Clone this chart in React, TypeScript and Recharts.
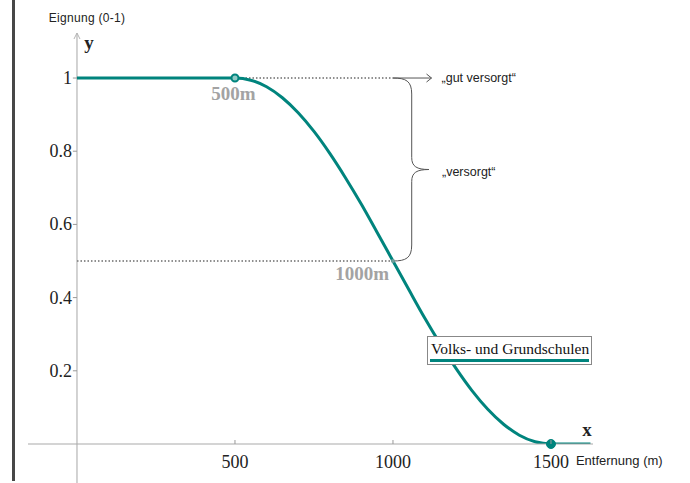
import {
  Legend,
  Line,
  LineChart,
  ReferenceArea,
  ReferenceDot,
  ReferenceLine,
  XAxis,
  YAxis,
} from "recharts";

// Entfernung (m) und Eignung (0-1)
const ENTFERNUNG = [0, 500, 550, 600, 650, 700, 750, 800, 850, 900, 950, 1000, 1050, 1100, 1150, 1200, 1250, 1300, 1350, 1400, 1450, 1500, 1625];
const EIGNUNG = [1, 1, 0.994, 0.976, 0.946, 0.905, 0.854, 0.794, 0.727, 0.655, 0.578, 0.5, 0.422, 0.345, 0.273, 0.206, 0.146, 0.095, 0.054, 0.024, 0.006, 0, 0];
const X_TICKS = [500, 1000, 1500];
const Y_TICKS = [0.2, 0.4, 0.6, 0.8, 1];
const MARKS = [500, 1000, 1500];

const TEAL = "#00847d";
const SERIF = "Liberation Serif, serif";
const SANS = "Liberation Sans, Arial, sans-serif";

const data = ENTFERNUNG.map((x, i) => ({ x, y: EIGNUNG[i] }));

// text placed relative to a reference dot
const txt = (value: string, dx: number, dy: number, style: any = {}) => (p: any) => (
  <text x={p.viewBox.x + dx} y={p.viewBox.y + dy} {...style}>
    {value}
  </text>
);

const XTick = ({ x, y, payload }: any) => (
  <g>
    <line x1={x} y1={y - 4} x2={x} y2={y} stroke="#999" />
    <text x={x} y={y + 24} textAnchor="middle" fontFamily={SERIF} fontSize={18} fill="#222">
      {payload.value}
    </text>
  </g>
);

const AxisWithArrow = (p: any) => {
  const top = Math.min(p.y1, p.y2);
  const bottom = Math.max(p.y1, p.y2);
  return (
    <g>
      <line x1={p.x1} y1={top} x2={p.x1} y2={bottom} stroke="#b5b5b5" strokeWidth={1.2} />
      <path d={`M${p.x1 - 3},${top + 6} L${p.x1},${top} L${p.x1 + 3},${top + 6}`} fill="none" stroke="#b5b5b5" />
    </g>
  );
};

const Arrow = (p: any) => (
  <g>
    <line x1={p.x1} y1={p.y1} x2={p.x2} y2={p.y2} stroke="#555" strokeWidth={1} />
    <path d={`M${p.x2 - 5},${p.y2 - 4} L${p.x2},${p.y2} L${p.x2 - 5},${p.y2 + 4}`} fill="none" stroke="#555" />
  </g>
);

const Brace = ({ x, y, width, height }: any) => {
  const v = x + width * 0.52;
  const m = y + height / 2;
  const d = [
    `M${x},${y} C${x + 13},${y} ${v},${y + 3} ${v},${y + 16}`,
    `L${v},${m - 12} C${v},${m - 3} ${v + 5},${m} ${x + width},${m}`,
    `C${v + 5},${m} ${v},${m + 3} ${v},${m + 12}`,
    `L${v},${y + height - 16} C${v},${y + height - 3} ${x + 13},${y + height} ${x},${y + height}`,
  ].join(" ");
  return <path d={d} fill="none" stroke="#555" strokeWidth={1} />;
};

const LegendBox = (props: any) => {
  const name = props.payload?.[0]?.value ?? "";
  return (
    <div
      style={{
        border: "1px solid #888",
        background: "#fff",
        padding: "3px 2px 2px 2px",
        fontFamily: SERIF,
        fontSize: 15.5,
        color: "#111",
        lineHeight: "17px",
        whiteSpace: "nowrap",
      }}
    >
      <div style={{ paddingLeft: 1 }}>{name}</div>
      <div style={{ height: 3, background: TEAL, marginTop: 2 }} />
    </div>
  );
};

export default function App() {
  return (
    <div style={{ position: "absolute", left: 0, top: 0, width: 690, height: 483, background: "#fff" }}>
      <div style={{ position: "absolute", left: 12, top: 0, width: 2.5, height: 481, background: "#474747" }} />
      <LineChart width={690} height={483} data={data} margin={{ top: 33, right: 97, bottom: 0, left: 28 }}>
        <XAxis
          type="number"
          dataKey="x"
          domain={[-155, 1633]}
          allowDataOverflow
          ticks={X_TICKS}
          tick={<XTick />}
          tickLine={false}
          tickSize={0}
          tickMargin={0}
          height={39}
          axisLine={{ stroke: "#aaa", strokeWidth: 1.2 }}
        />
        <YAxis type="number" domain={[0, 1.123]} allowDataOverflow hide />

        <ReferenceLine
          segment={[{ x: 0, y: -0.107 }, { x: 0, y: 1.123 }]}
          ifOverflow="visible"
          shape={AxisWithArrow}
        />
        {Y_TICKS.map((v) => (
          <ReferenceLine key={`t${v}`} segment={[{ x: -13, y: v }, { x: 0, y: v }]} stroke="#999" />
        ))}
        {Y_TICKS.map((v) => (
          <ReferenceDot
            key={`l${v}`}
            x={0}
            y={v}
            r={0}
            stroke="none"
            label={{ content: txt(String(v), -5, 6, { textAnchor: "end", fontFamily: SERIF, fontSize: 18, fill: "#222" }) }}
          />
        ))}

        <ReferenceLine segment={[{ x: 500, y: 1 }, { x: 1000, y: 1 }]} stroke="#8f8f8f" strokeWidth={2} strokeDasharray="1.5 2" />
        <ReferenceLine segment={[{ x: 0, y: 0.5 }, { x: 1000, y: 0.5 }]} stroke="#8f8f8f" strokeWidth={2} strokeDasharray="1.5 2" />
        <ReferenceLine segment={[{ x: 1000, y: 1 }, { x: 1122, y: 1 }]} shape={Arrow} />
        <ReferenceArea x1={1000} x2={1114} y1={0.5} y2={1} shape={Brace} />

        <ReferenceDot
          x={1122}
          y={1}
          r={0}
          stroke="none"
          label={{ content: txt("\u201Egut versorgt\u201C", 10, 4, { fontFamily: SANS, fontSize: 12.5, fill: "#222" }) }}
        />
        <ReferenceDot
          x={1114}
          y={0.75}
          r={0}
          stroke="none"
          label={{ content: txt("\u201Eversorgt\u201C", 13, 6, { fontFamily: SANS, fontSize: 12.5, fill: "#222" }) }}
        />
        <ReferenceDot
          x={32}
          y={1.123}
          r={0}
          stroke="none"
          label={{ content: txt("Eignung (0-1)", 0, -11, { textAnchor: "middle", fontFamily: SANS, fontSize: 12, letterSpacing: 0.3, fill: "#222" }) }}
        />
        <ReferenceDot
          x={38}
          y={1.09}
          r={0}
          stroke="none"
          label={{ content: txt("y", 0, 4, { textAnchor: "middle", fontFamily: SERIF, fontWeight: "bold", fontSize: 19, fill: "#222" }) }}
        />
        <ReferenceDot
          x={1614}
          y={0.033}
          r={0}
          stroke="none"
          label={{ content: txt("x", 0, 4, { textAnchor: "middle", fontFamily: SERIF, fontWeight: "bold", fontSize: 19, fill: "#222" }) }}
        />
        <ReferenceDot
          x={1579}
          y={0}
          r={0}
          stroke="none"
          label={{ content: txt("Entfernung (m)", 0, 21, { fontFamily: SANS, fontSize: 13, fill: "#222" }) }}
        />

        <Line
          type="monotone"
          dataKey="y"
          name="Volks- und Grundschulen"
          stroke={TEAL}
          strokeWidth={3}
          dot={false}
          activeDot={false}
          isAnimationActive={false}
        />

        <ReferenceDot
          x={MARKS[0]}
          y={1}
          r={3.5}
          fill="#8fcac5"
          stroke={TEAL}
          strokeWidth={2}
          label={{ content: txt("500m", 2, 25, { textAnchor: "middle", fontFamily: SERIF, fontWeight: "bold", fontSize: 19, fill: "#a3a3a3" }) }}
        />
        <ReferenceDot
          x={MARKS[1]}
          y={0.5}
          r={2}
          fill="#6e9e9b"
          stroke="none"
          label={{ content: txt("1000m", -2, 21, { textAnchor: "end", fontFamily: SERIF, fontWeight: "bold", fontSize: 19, fill: "#a3a3a3" }) }}
        />
        <ReferenceDot x={MARKS[2]} y={0} r={4.5} fill={TEAL} stroke={TEAL} />

        <Legend
          layout="horizontal"
          verticalAlign="middle"
          align="center"
          content={<LegendBox />}
          wrapperStyle={{ left: 427, top: 336, width: "auto", height: "auto" }}
        />
      </LineChart>
    </div>
  );
}
